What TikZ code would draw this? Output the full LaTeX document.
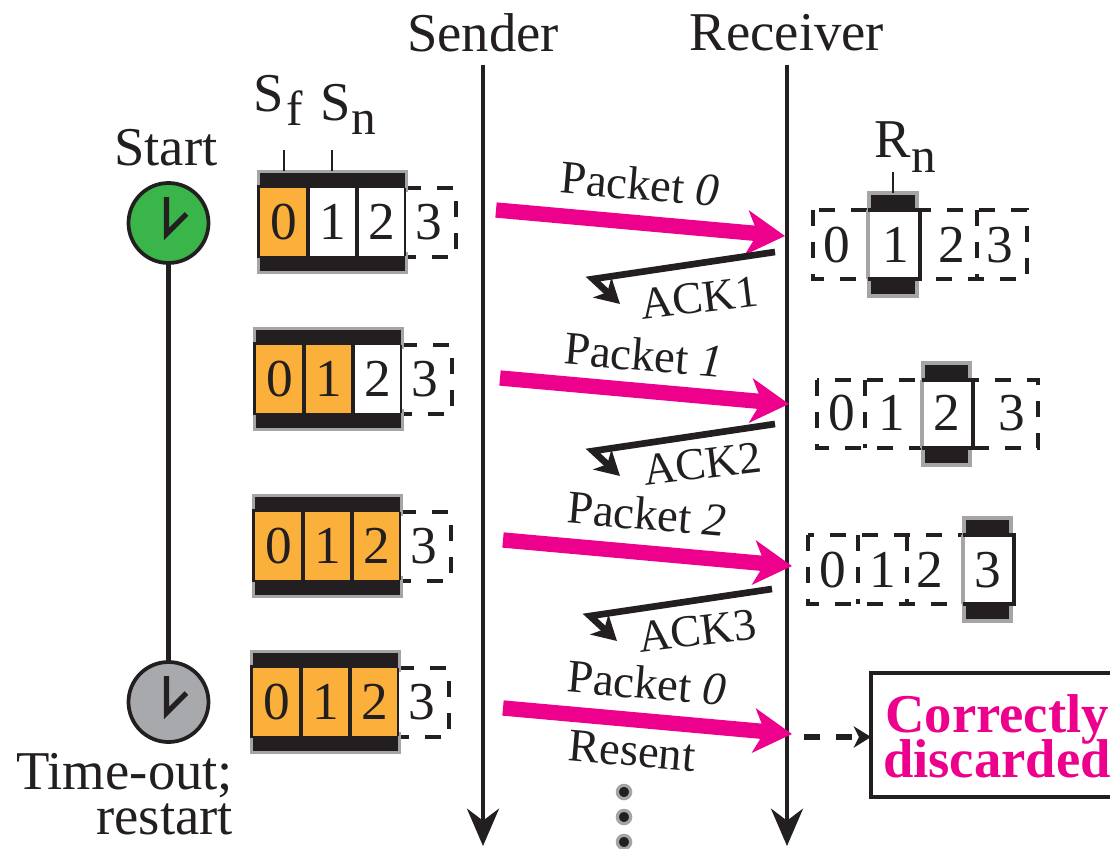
\documentclass[tikz,border=0pt]{standalone}
\usepackage{fontspec}
\setmainfont{Liberation Serif}
\usetikzlibrary{arrows.meta}
\definecolor{pk}{RGB}{236,0,140}
\definecolor{org}{RGB}{251,176,59}
\definecolor{grn}{RGB}{57,181,74}
\definecolor{gry}{RGB}{167,169,172}
\definecolor{blk}{RGB}{35,31,32}
\definecolor{edge}{RGB}{165,165,168}
\tikzset{
 x=0.75pt,y=-0.75pt,
 every node/.style={inner sep=0pt,outer sep=0pt,text=blk},
 big/.style={font=\fontsize{41}{41}\selectfont},
 dig/.style={font=\fontsize{40}{40}\selectfont},
 sub/.style={font=\fontsize{37}{37}\selectfont},
 lab/.style={font=\fontsize{35}{35}\selectfont},
 acklab/.style={font=\fontsize{34}{34}\selectfont},
 life/.style={draw=blk,line width=3pt,-{Stealth[length=28pt,width=24pt,inset=9pt]}},
 pkt/.style={draw=pk,line width=11.5pt,-{Stealth[length=28.5pt,width=33pt,inset=8pt,fill=pk]}},
 ack/.style={draw=blk,line width=5pt,line join=miter,-{Stealth[length=18pt,width=20pt,inset=5pt]}},
 dashbox/.style={draw=blk,line width=2.3pt,dash pattern=on 12pt off 12pt},
 bar/.style={fill=blk,draw=edge,line width=2.25pt},
 rbar/.style={fill=blk,draw=edge,line width=3pt},
 sep/.style={draw=blk,line width=2.4pt},
 tick/.style={draw=blk,line width=1.4pt},
 clock/.style={circle,draw=blk,line width=2.8pt,minimum size=60pt},
 hand/.style={draw=blk,line width=3.8pt,line cap=butt,line join=miter},
 dots/.style={circle,fill=blk,draw=edge,line width=2.4pt,minimum size=10pt},
}
% sender window: id, dx, dy, orange count
\newcommand{\sendwin}[4]{%
 \begin{scope}[shift={(#2,#3)}]
  \draw[dashbox] (405,188) -- (456,188) -- (456,257) -- (405,257);
  \node[bar,minimum width=111pt,minimum height=13.9pt] (#1t) at (332.5,180.75) {};
  \node[bar,minimum width=111pt,minimum height=13.9pt] (#1b) at (332.5,263.25) {};
  \fill[white] (259,188) rectangle (405,256);
  \ifnum#4>0 \fill[org] (259,188) rectangle (308,256);\fi
  \ifnum#4>1 \fill[org] (308,188) rectangle (357,256);\fi
  \ifnum#4>2 \fill[org] (357,188) rectangle (405,256);\fi
  \draw[sep] (258.5,185) -- (258.5,258);
  \draw[sep] (308,188) -- (308,256);
  \draw[sep] (357,188) -- (357,256);
  \draw[blk,line width=0.8pt] (405,188) -- (405,256);
  \node[dig] (#1c0) at (284,222) {0};
  \node[dig] (#1c1) at (333,222) {1};
  \node[dig] (#1c2) at (382,222) {2};
  \node[dig] (#1c3) at (429,222) {3};
 \end{scope}}
% receiver window: id, x0, x1, ytop, ybot, wx0, wx1, separators, digits
\newcommand{\recvwin}[9]{%
 \draw[dashbox] (#2,#4) rectangle (#3,#5);
 \foreach \s in {#8} {\draw[dashbox] (\s,#4) -- (\s,#5);}
 \node[rbar,minimum width=#7pt*0.75-#6pt*0.75-3pt,minimum height=13.5pt] (#1t) at ({(#6+#7)/2-1},#4-8) {};
 \node[rbar,minimum width=#7pt*0.75-#6pt*0.75-3pt,minimum height=13.5pt] (#1b) at ({(#6+#7)/2-1},#5+8) {};
 \fill[white] (#6,#4) rectangle (#7,#5);
 \draw[draw=edge,line width=3pt] (#6,#4) -- (#6,#5);
 \draw[sep] (#6,#4) -- (#7,#4) -- (#7,#5) -- (#6,#5);
 #9}
\begin{document}
\begin{tikzpicture}
\useasboundingbox (0,0) rectangle (1110,849);
\fill[white] (0,0) rectangle (1110,849);
% titles
\node[big] (sender) at (483,33) {Sender};
\node[big] (receiver) at (787,33) {Receiver};
% lifelines
\coordinate (lifeSa) at (483,65); \coordinate (lifeSb) at (483,846);
\coordinate (lifeRa) at (787,65); \coordinate (lifeRb) at (787,846);
\draw[life] (lifeSa) -- (lifeSb);
\draw[life] (lifeRa) -- (lifeRb);
% labels
\node[big,anchor=base] (sf) at (268.5,112) {S};
\node[sub,anchor=base] (sfs) at (295,125) {f};
\node[big,anchor=base] (sn) at (336,120) {S};
\node[sub,anchor=base] (sns) at (363.5,134) {n};
\node[big,anchor=base] (rn) at (893,157) {R};
\node[sub,anchor=base] (rns) at (924,172) {n};
\node[big,anchor=base] (start) at (166,165) {Start};
% sender windows
\sendwin{a}{0}{0}{1}
\sendwin{b}{-4}{157}{2}
\sendwin{c}{-5}{324}{3}
\sendwin{d}{-7}{480}{3}
\coordinate (sfa) at (284,150); \coordinate (sna) at (332,150);
\draw[tick] (sfa) -- (sfa |- at.north);
\draw[tick] (sna) -- (sna |- at.north);
% clocks
\node[clock,fill=grn] (c1) at (168.5,223) {};
\node[clock,fill=gry] (c2) at (168.5,702) {};
\draw[blk,line width=4pt] (c1) -- (c2);
\foreach \c in {c1,c2}{
 \draw[hand] ([shift={(-2,-26)}]\c.center) -- ([shift={(-2,11)}]\c.center) -- ([shift={(18,-9)}]\c.center);
}
\node[align=right,anchor=north east,font=\fontsize{41}{34}\selectfont] (to) at (233,753) {Time-out;\\restart};
% receiver windows
\recvwin{u}{813}{1027}{210}{279}{868}{920}{977}{
 \node[dig] (u0) at (837,245) {0}; \node[dig] (u1) at (896,245) {1};
 \node[dig] (u2) at (952,245) {2}; \node[dig] (u3) at (1000,245) {3};}
\recvwin{v}{817}{1038}{380}{448}{922}{973}{865}{
 \node[dig] (v0) at (842,413) {0}; \node[dig] (v1) at (892,413) {1};
 \node[dig] (v2) at (947,413) {2}; \node[dig] (v3) at (1012,413) {3};}
\recvwin{w}{808}{1014}{535}{604}{963}{1014}{858,907}{
 \node[dig] (w0) at (833,570) {0}; \node[dig] (w1) at (883,570) {1};
 \node[dig] (w2) at (930,570) {2}; \node[dig] (w3) at (988,570) {3};}
\coordinate (rna) at (893,172);
\draw[tick] (rna) -- (rna |- ut.north);
% packets
\foreach \y/\x [count=\i] in {210/496,378/500,540/503,708/503}{
 \coordinate (p\i a) at (\x,\y);
 \coordinate (p\i b) at (\x+289,\y+26);
 \draw[pkt] (p\i a) -- (p\i b);
}
\node[lab,rotate=-5] (l1) at (640,184) {Packet \textit{0}};
\node[lab,rotate=-5] (l2) at (644,355) {Packet \textit{1}};
\node[lab,rotate=-5] (l3) at (647,514) {Packet \textit{2}};
\node[lab,rotate=-5] (l4) at (647,683) {Packet \textit{0}};
\node[lab,rotate=-5] (l5) at (632,751) {Resent};
% acks
\foreach \xa/\ya/\xb/\yb [count=\i] in {775/252/593/279, 775/424/593/451, 772/589/590/616}{
 \coordinate (k\i a) at (\xa,\ya);
 \coordinate (k\i b) at (\xb,\yb);
 \coordinate (k\i c) at (\xb+27,\yb+25);
 \draw[ack] (k\i a) -- (k\i b) -- (k\i c);
}
\node[acklab,rotate=7] (a1) at (699,298) {ACK1};
\node[acklab,rotate=7] (a2) at (702,464) {ACK2};
\node[acklab,rotate=7] (a3) at (697,631) {ACK3};
% dots
\node[dots] (d1) at (624,792) {};
\node[dots] (d2) at (624,817) {};
\node[dots] (d3) at (624,842) {};
% discard box
\node[draw=blk,line width=2.6pt,minimum width=184pt,minimum height=93pt,anchor=west,fill=white] (box) at (871,735) {};
\coordinate (da) at (804,737);
\draw[blk,line width=4.5pt,dash pattern=on 12pt off 12pt,-{Stealth[length=13pt,width=16pt,inset=4pt]}] (da) -- (box.west |- da);
\node[anchor=base,text=pk,font=\fontsize{41}{41}\selectfont\bfseries] (ct1) at (997,732) {Correctly};
\node[anchor=base,text=pk,font=\fontsize{41}{41}\selectfont\bfseries] (ct2) at (997,777) {discarded};
\end{tikzpicture}
\end{document}
